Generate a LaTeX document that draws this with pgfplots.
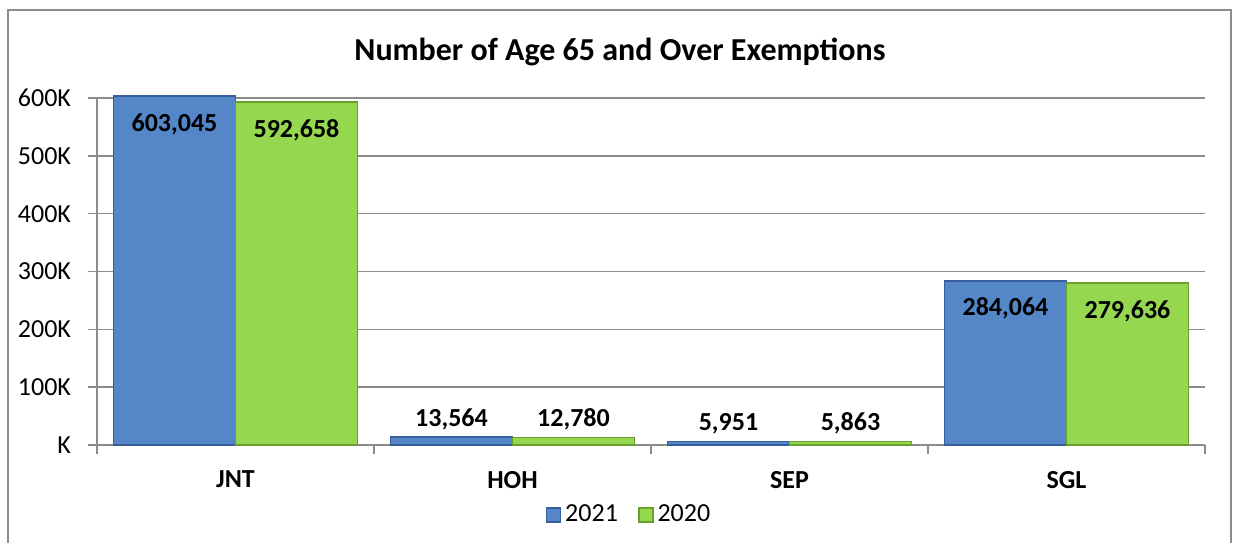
\documentclass[border=0pt]{standalone}
\usepackage{pgfplots}
\pgfplotsset{compat=1.18}
\usepackage{pgfplotstable}
\usepackage{fontspec}
\setmainfont{Carlito}
\definecolor{bblue}{RGB}{85,135,200}
\definecolor{bblueE}{RGB}{55,95,155}
\definecolor{bgreen}{RGB}{150,215,80}
\definecolor{bgreenE}{RGB}{105,160,45}
\definecolor{gridc}{RGB}{140,140,140}
\pgfplotstableread{
x y s
0 603045 -14
1 13564 9
2 5951 9
3 284064 -14
}\dataA
\pgfplotstableread{
x y s
0 592658 -14
1 12780 9
2 5863 9
3 279636 -14
}\dataB
\begin{document}
\begin{tikzpicture}
\path[use as bounding box] (0,0) rectangle (616.5pt,271pt);
\draw[gridc,line width=0.75pt] (4pt,-5pt) -- (4pt,266pt) -- (615.5pt,266pt) -- (615.5pt,-5pt);
\node[font=\fontsize{16}{19}\selectfont\bfseries] at (310pt,245pt) {Number of Age 65 and Over Exemptions};
\begin{axis}[
  at={(48.5pt,48.5pt)}, anchor=south west,
  scale only axis, width=554pt, height=173.5pt,
  xmin=-0.5, xmax=3.5, ymin=0, ymax=600000,
  enlargelimits=false, clip=false,
  axis x line*=bottom, axis y line*=left,
  axis line style={-, gridc, line width=0.8pt},
  ytick={0,100000,200000,300000,400000,500000,600000},
  yticklabels={K,100K,200K,300K,400K,500K,600K},
  scaled y ticks=false,
  xtick={0,1,2,3},
  xticklabels={JNT,HOH,SEP,SGL},
  minor xtick={-0.5,0.5,1.5,2.5,3.5},
  tick align=outside,
  major tick length=4.5pt, minor tick length=4.5pt,
  tick style={gridc, line width=0.8pt},
  xtick style={draw=none},
  minor x tick style={draw=gridc, line width=0.8pt},
  ymajorgrids, grid style={gridc, line width=0.8pt},
  yticklabel style={font=\fontsize{13}{15}\selectfont, xshift=-5pt},
  xticklabel style={font=\fontsize{13}{15}\selectfont\bfseries, yshift=-5pt},
  /pgf/number format/assume math mode=true,
  ybar, bar width=61pt,
  point meta=rawy,
  nodes near coords={\pgfmathprintnumber[fixed,precision=0,1000 sep={,}]{\pgfplotspointmeta}},
  visualization depends on={\thisrow{s} \as \lshift},
  every node near coord/.append style={font=\fontsize{13}{15}\selectfont\bfseries, anchor=center, yshift=\lshift, text=black},
  legend style={draw=none, fill=none, legend columns=-1, at={(0.481,-0.2017)}, anchor=center,
    font=\fontsize{13}{15}\selectfont,
    /tikz/every even column/.append style={column sep=8pt}},
  legend image code/.code={\draw[#1] (0pt,-3.5pt) rectangle (7pt,3.5pt);},
]
\addplot[fill=bblue, draw=bblueE, line width=0.8pt, bar shift=-30.5pt] table[x=x,y=y] {\dataA};
\addlegendentry{2021}
\addplot[fill=bgreen, draw=bgreenE, line width=0.8pt, bar shift=30.5pt] table[x=x,y=y] {\dataB};
\addlegendentry{2020}
\end{axis}
\end{tikzpicture}
\end{document}
